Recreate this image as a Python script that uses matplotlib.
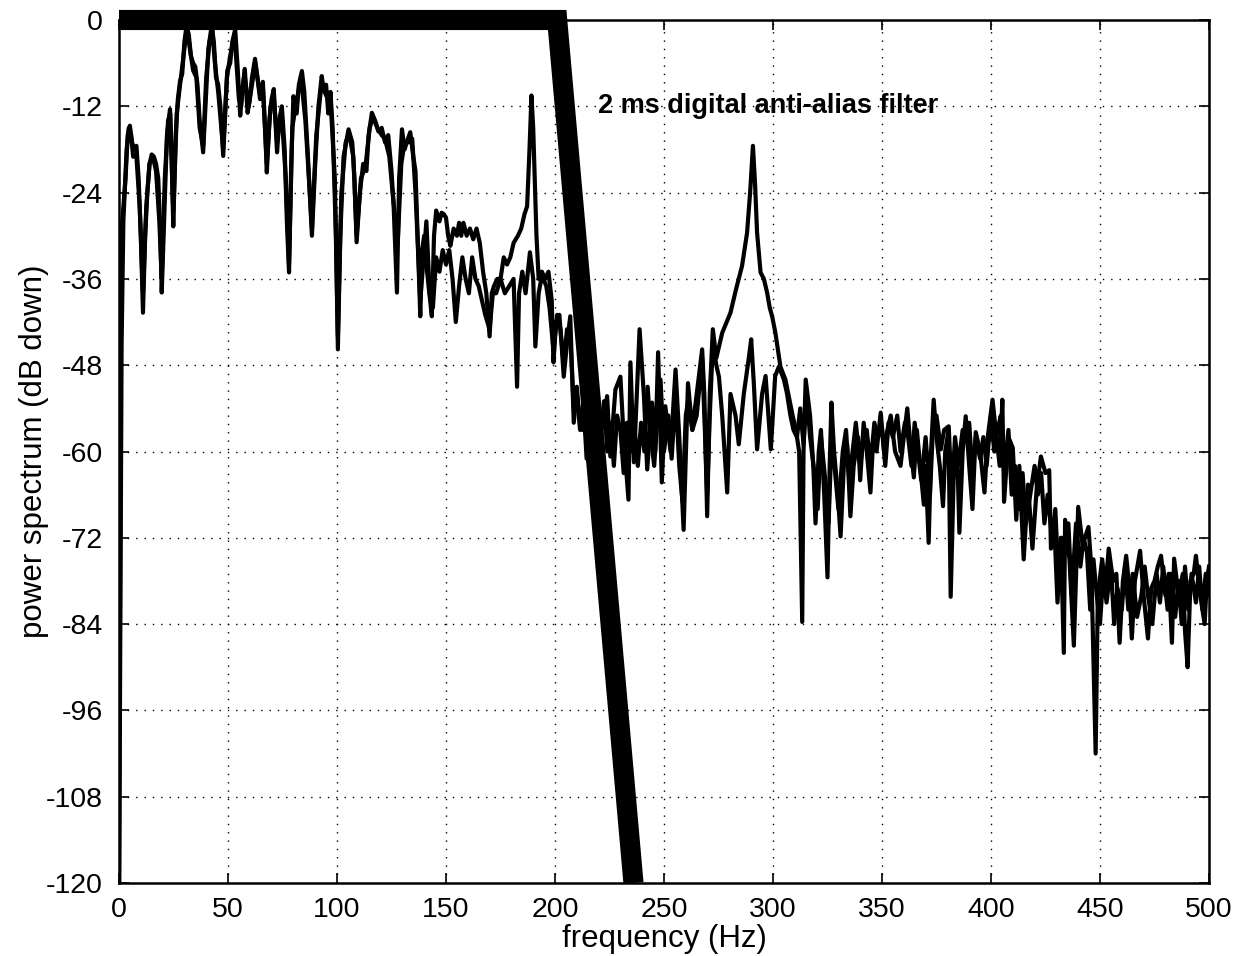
import matplotlib
matplotlib.use("Agg")
import matplotlib.pyplot as plt

# ---------------- data ----------------
freq_a = [0, 1, 2, 3, 4, 5, 6, 7, 8, 9, 10, 11, 12, 13, 14, 15, 16, 17, 18, 19, 19.6,
          21, 22, 23.4, 24.2, 24.9, 26, 27, 28, 29, 30, 31, 32, 33, 34, 35, 36, 37, 38.6,
          40, 41, 42.5, 43.5, 44.5, 45.5, 46.5, 47.8, 49, 49.7, 51, 52, 53.3, 54.5, 55.6,
          56.5, 57.7, 59, 60, 61, 62.4, 63.5, 64.7, 66, 67, 67.8, 69, 70, 71, 72.5, 73.5,
          74.7, 76, 77, 78, 79, 80, 81.5, 82.5, 83.9, 85, 86.5, 88.5, 90, 91.5, 93, 94, 95,
          96, 97, 98, 99.5, 100.4, 101.5, 103, 105.3, 107, 108, 109, 110.5, 112, 113.5,
          114.5, 116, 117.5, 119, 120.5, 122, 123.5, 125, 126, 127.5, 128.5, 129.8, 131,
          132, 133.6, 135, 136, 137, 138.2, 139, 140, 141, 142, 143.5, 144.5, 145.5, 147,
          148, 149, 150, 151, 152, 153.5, 155, 156, 157, 158, 159.5, 161, 162.5, 164,
          165.5, 167, 168.5, 170, 171, 172, 173.5, 175, 176.5, 178, 179.5, 181, 183, 184.5,
          186, 187.2, 188.3, 189.2, 190, 190.7, 191.5, 192.5, 194, 195.5, 197, 198.5,
          199.3, 200.5, 202, 203, 204, 205.5, 207,
          208.6, 210, 211, 212.5, 214, 215.5, 217, 218.5, 220, 222, 223.9, 225.4, 227.7,
          230, 231.5, 233.7, 234.6, 236.2, 238.8, 240.8, 242.3, 244.5, 246, 247.3, 249,
          250.6, 253, 255.3, 257, 259, 261,
          263, 265, 267.5, 268.5, 269.8, 271, 272.4, 274, 276.7, 280.5, 283, 285.8, 288.1,
          289.5, 290.8, 291.8, 292.7, 294.3, 295.8, 297.3, 298.5, 299.6, 301.1, 303.4,
          305.7, 307, 309, 310.5, 312, 313.4, 314, 315, 317, 318.5, 319.5, 321, 322, 323.5,
          325, 326, 326.8, 328, 329.5, 331, 332.5, 334, 335.5, 337, 339, 340, 341.6, 343,
          344.7, 346, 347.5, 349.4, 351, 352.5, 354, 356, 358.5, 360, 361.6, 363, 364.6,
          366, 367.5, 369.2, 370, 371.4, 372.5, 373.7, 375, 376.5, 378, 379, 380.5, 381.5,
          383, 384.5, 385.5, 387, 388.4, 390, 391.5, 393, 395, 397, 398.5, 400.7, 402.5,
          404, 405.2, 406, 408, 410, 411.6, 413, 415, 417, 419, 421, 422.9, 425, 426.7,
          427.5, 429, 430.5, 432, 433.4, 434, 436, 438, 440, 442, 444.7, 446, 448, 449, 451,
          452.5, 454, 456, 457.5, 459, 460.5, 462, 463.5, 464.6, 466, 468.4, 470, 472,
          473.5, 475, 476.5, 478, 480, 481.5, 483, 484, 486, 488, 489, 490.2, 491.5, 493,
          494, 496, 498, 499, 500]
db_a = [-125, -30, -26, -22, -16, -14.7, -17, -18, -17.5, -22, -30, -40.7, -30, -24, -20,
        -18.7, -19, -20, -22, -30, -37.9,
        -25, -16, -12.4, -20, -28.7, -16, -11, -8.5, -7.5, -3, -0.8, -2, -5, -6, -6.5, -9,
        -14, -18.4,
        -10, -4, -0.8, -3, -8, -9, -12, -18.9, -11, -7, -6, -3, -1.3, -7, -13.3,
        -10, -6.8, -12.9, -11, -8, -5.4, -8, -11, -8.6, -15, -21.2, -14, -11, -9.6, -18.4, -14,
        -12, -18, -28, -35.1, -20, -10.6, -13, -9, -7.1, -10, -18, -30, -20, -12, -7.8, -10, -9,
        -13, -10, -15, -30, -45.8, -30, -19, -15.2, -17, -22, -30.9, -24, -20, -21,
        -16, -12.9, -14, -15.5, -15, -17, -16, -21, -26, -37.9, -22, -15.2, -18,
        -17, -15.6, -19, -21, -30, -41.2, -32, -30, -34, -37, -41.2, -30, -26.5, -28,
        -26.8, -27, -27.5, -30, -31.4, -29, -30, -28.2, -30, -28.2, -30, -29, -30.5, -29,
        -31, -35, -38, -44, -38, -37, -36, -36, -33, -34, -33, -31, -30, -29,
        -27, -25.9, -18, -10.5, -15, -22, -30, -36, -35, -36, -35, -39,
        -47.6, -42, -41, -45, -49.6, -45, -41.2,
        -56, -51, -54.6, -57, -52, -58, -53, -60, -55, -56, -52.3, -60.7, -51.4,
        -49.6, -58, -66.7, -47.6, -61.5, -43, -52.3, -62.5, -53.2, -60, -46.2, -64.3,
        -53.7, -60, -48.6, -58, -70.9, -50.5,
        -57, -52, -45.8, -52, -69, -52, -43, -47, -43.5, -40.7, -37.5, -34.2, -29.6,
        -24, -17.5, -23, -29.6, -35.1, -36, -37.9, -40, -41.2, -43.5, -48.2,
        -50, -52, -55, -57, -60, -83.7, -60, -50, -55, -62, -70, -60, -57, -66,
        -77.5, -62, -53.2, -60, -65, -71.8, -62, -59, -69, -62, -58, -64, -56, -60,
        -65.7, -58, -60, -54.6, -60, -57, -55, -60, -62, -58, -54, -59, -63.6,
        -57, -62, -67.4, -62, -72.7, -60, -52.8, -58, -62, -67.6, -60, -57.1, -80.2,
        -62, -60, -71.3, -60, -55.1, -62, -68, -57.3, -60, -65.7, -58, -52.8, -58,
        -62, -52.8, -67, -58, -59.5, -69.5, -62, -75, -64.6, -73.5, -65, -60.7, -63, -62.6,
        -73.5, -70, -81, -72, -88, -69.5, -75, -87, -67.7, -73, -70.5, -76, -102, -80, -75,
        -79, -73.5, -78, -77, -86.6, -78, -74.5, -79, -86, -78, -73.8, -80, -86,
        -79, -78, -76, -74.5, -80, -77, -86.6, -74.9, -80, -77, -85, -90, -78, -77,
        -74.5, -80, -84, -78, -76]

freq_b = [0, 1.2, 2, 3.5, 4.5, 5.5, 6.5, 8, 9.5, 11, 12.5, 14, 15.5, 17, 18.5, 19.6, 21,
          22.5, 23.5, 24.9, 26.5, 28, 30, 31.2, 32.5, 34, 35.5, 37, 38.6, 40, 41.5, 42.8,
          44, 45.5, 47.8, 49.5, 51, 53, 55, 56, 57.5, 59.5, 61, 62.5, 64.5, 66, 67.8, 69.5,
          71, 72.5, 74.5, 76.5, 78, 79.5, 81, 83.5, 85.5, 88.5, 90.5, 93, 95, 97, 99,
          100.4, 102, 104, 105.5, 107.5, 109, 111, 113, 115, 116.5, 118.5, 120.5, 122, 124,
          125.5, 126.5, 128, 129.5, 131, 133, 134.5, 136, 138.2, 139.5, 141, 142.5, 144,
          145.5, 147, 148.5, 150, 151.5, 153, 154.5, 156, 157.5, 159, 160.5, 162, 163.5,
          165, 166.5, 168, 170, 171.5, 173, 175, 177, 179, 181, 182.6, 183.5, 185, 186.5,
          188.5, 190, 191, 192.5, 194, 196, 197.5, 199.3, 201, 202.5, 204, 205.5, 207,
          208.6, 210, 211.5, 213, 214.5, 216, 218, 219.5, 221, 222.5, 224, 225.5, 227,
          228.5, 230, 231.5, 233, 234.6, 236, 238, 239.5, 241, 242.5, 244, 245.5, 247,
          248.4, 250, 252, 253.5, 255.3, 257, 258.5, 260, 261, 263, 265, 267.5, 268.5,
          269.8, 271, 272.4, 274, 275.2, 276.7, 279, 280.5, 282.8, 284.3, 286.6, 288.9,
          290, 291.2, 292.7, 295, 296.6, 299, 301, 302.7, 305, 306.4, 308, 309.4, 311,
          312.5, 314, 315.5, 317, 319, 320.5, 322, 324, 325.5, 327, 328.5, 330, 332, 333.5,
          335, 336.5, 338, 340, 341.6, 343, 344.7, 346.5, 348, 350, 351.5, 353, 355, 357,
          358.5, 360.5, 362, 363.5, 365, 366.5, 368, 370, 372, 373.5, 375, 377, 378.5,
          380.6, 382, 383.5, 385, 387, 388.5, 390, 391.5, 393, 395, 396.5, 398, 400, 401.5,
          403, 404.5, 406, 408, 409.5, 411, 413, 414.5, 416, 418, 420, 421.5, 423, 424.5,
          426, 428, 429.5, 431, 432.5, 434, 435.5, 437, 439, 441, 442.5, 444, 445.5, 447,
          448.5, 450, 451.5, 453, 455, 456.5, 458, 460, 461.5, 463, 465, 467, 469, 470.5,
          472, 474, 476, 477.5, 479, 481, 482.5, 484.5, 486, 487.5, 489, 490.5, 492, 494,
          495.5, 497, 498.5, 500]
db_b = [-125, -45, -28, -18, -15, -16, -19, -19, -26, -38, -26, -20, -19, -21, -28, -36, -22,
        -14, -13, -27, -13, -9, -4, -1, -4, -7, -8, -15, -17.5, -8, -3, -1.5,
        -6, -10, -18, -8, -5, -2, -11, -12, -7.5, -12, -9, -6, -10, -9.5, -20, -12,
        -10.5, -17, -12.5, -22, -34, -15, -12, -8, -14, -29, -16, -8.5, -10.5, -11, -22,
        -44, -24, -17, -15.8, -19, -30, -22, -20.5, -15, -13.5, -15, -16, -16.5, -19,
        -24, -27, -30, -20, -17, -17, -16.5, -24, -39, -34, -28, -38, -40,
        -33, -35, -32, -34, -32, -36, -42, -37, -33, -36, -38, -33, -36,
        -37, -39, -41, -43, -38, -38, -36, -38, -37, -36, -51, -38, -35, -38,
        -32.3, -36, -45.4, -38, -35.5, -37, -40, -46, -41, -43, -48, -43, -44,
        -54, -52, -57, -53, -61, -56, -62, -55, -58, -53, -60, -56, -62,
        -55, -57, -63, -56, -60, -55, -62, -56, -60, -51, -58, -62, -55,
        -50, -60, -55, -61, -52, -62, -67, -55, -53, -57, -55, -47, -55,
        -66, -55, -45, -48, -49.6, -55, -65.7, -52, -55, -59, -52, -47,
        -44.4, -50.5, -59.7, -52, -49.5, -59.7, -49.5, -48.2, -50, -51.9, -55, -57, -58,
        -54, -59, -52, -58, -63, -68, -58, -64, -70, -57, -63, -68, -60, -57,
        -64, -60, -56, -62, -58, -57, -62, -56, -58, -57, -62, -56, -58, -55,
        -60, -56, -58, -62, -56, -60, -64, -58, -66, -56, -55, -59.7, -57,
        -56.5, -66, -58, -62, -57, -58, -56, -63, -58, -61, -58, -62, -55, -60,
        -57, -55, -63, -57, -66, -62, -68, -63, -70, -66, -62, -66, -63, -70,
        -66, -72, -68, -78, -72, -74, -70, -80, -70, -76, -72, -74, -82, -75,
        -80, -84, -77, -81, -76, -84, -79, -82, -76, -82, -77, -83, -80, -76,
        -80, -84, -77, -81, -76, -82, -77, -83, -78, -84, -76, -82, -77, -81,
        -76, -82, -77, -80]

filter_f = [0, 201, 236]
filter_db = [0, 0, -120]

x_ticks = [0, 50, 100, 150, 200, 250, 300, 350, 400, 450, 500]
y_ticks = [0, -12, -24, -36, -48, -60, -72, -84, -96, -108, -120]

# ---------------- plot ----------------
plt.rcParams['font.family'] = ['Liberation Sans', 'DejaVu Sans']

fig = plt.figure(figsize=(12.4, 9.56), dpi=100)
ax = fig.add_axes([119/1240, 1 - 883/956, (1209-119)/1240, (883-20)/956])

ax.plot(freq_a, db_a, color='black', linewidth=3.0, solid_joinstyle='round')
ax.plot(freq_b, db_b, color='black', linewidth=3.0, solid_joinstyle='round')
ax.plot(filter_f, filter_db, color='black', linewidth=14.5,
        solid_capstyle='butt', solid_joinstyle='miter', clip_on=False, zorder=5)

ax.text(219.5, -12, '2 ms digital anti-alias filter', fontsize=19.5,
        fontweight='bold', ha='left', va='center', color='black')

ax.set_xlim(0, 500)
ax.set_ylim(-120, 0)
ax.set_xticks(x_ticks)
ax.set_yticks(y_ticks)
ax.set_yticklabels([str(v) for v in y_ticks])
ax.tick_params(direction='in', length=7, width=1.2, labelsize=20.5,
               top=True, right=True)
ax.tick_params(axis='y', pad=11.5)
ax.tick_params(axis='x', pad=10)
ax.grid(True, color='black', linestyle=(0, (1, 5)), linewidth=1.0)
for s in ax.spines.values():
    s.set_linewidth(1.8)

ax.set_xlabel('frequency (Hz)', fontsize=22.5, labelpad=0.5)
ax.set_ylabel('power spectrum (dB down)', fontsize=22.5, labelpad=-2)

fig.savefig('out.png', dpi=100)
